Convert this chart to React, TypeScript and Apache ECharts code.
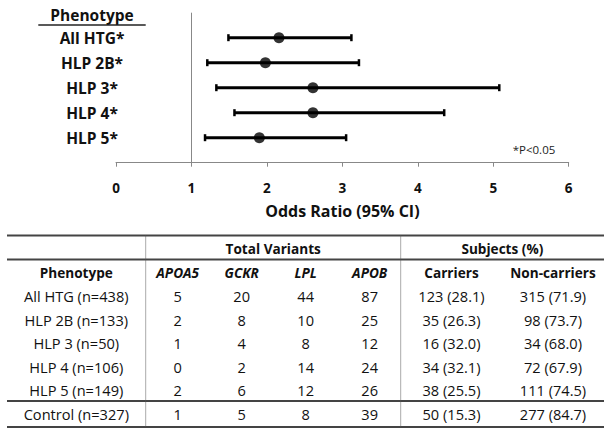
import React, { useEffect, useRef } from "react";
import * as echarts from "echarts";

// ---- Forest plot data ----
const phenotypes = ["All HTG*", "HLP 2B*", "HLP 3*", "HLP 4*", "HLP 5*"];
const oddsRatio = [2.16, 1.98, 2.61, 2.61, 1.9];
const ciLow = [1.49, 1.21, 1.33, 1.57, 1.18];
const ciHigh = [3.12, 3.22, 5.08, 4.35, 3.05];
const xTicks = [0, 1, 2, 3, 4, 5, 6];

// ---- Table data ----
const groups = ["All HTG", "HLP 2B", "HLP 3", "HLP 4", "HLP 5", "Control"];
const groupN = [438, 133, 50, 106, 149, 327];
const apoa5 = [5, 2, 1, 0, 2, 1];
const gckr = [20, 8, 4, 2, 6, 5];
const lpl = [44, 10, 8, 14, 12, 8];
const apob = [87, 25, 12, 24, 26, 39];
const carriers = [123, 35, 16, 34, 38, 50];
const carrierPct = [28.1, 26.3, 32.0, 32.1, 25.5, 15.3];
const nonCarriers = [315, 98, 34, 72, 111, 277];
const nonCarrierPct = [71.9, 73.7, 68.0, 67.9, 74.5, 84.7];
const geneHeaders = ["APOA5", "GCKR", "LPL", "APOB"];
const subjectHeaders = ["Carriers", "Non-carriers"];

const FONT = "'Open Sans', Lato, sans-serif";

export default function App() {
  const ref = useRef<HTMLDivElement>(null);

  useEffect(() => {
    if (!ref.current) return;
    const chart = echarts.init(ref.current, undefined, { renderer: "svg" });
    const n = phenotypes.length;
    const yOf = (i: number) => n - i;

    const scatterData = oddsRatio.map((v, i) => [v, yOf(i)]);
    const ciData = ciLow.map((lo, i) => [lo, ciHigh[i], yOf(i)]);

    // table layout
    const tLeft = 7;
    const tRight = 604;
    const colX = [76.3, 177.7, 241.7, 305.7, 369.7, 451.5, 553];
    const rowY0 = 296.3;
    const rowStep = 23.5;
    const graphics: any[] = [];
    const txt = (x: number, y: number, text: string, size: number, weight: string, italic = false) => ({
      type: "text",
      x,
      y,
      silent: true,
      style: {
        text,
        fontFamily: FONT,
        fontSize: size,
        fontWeight: weight,
        fontStyle: italic ? "italic" : "normal",
        fill: "#111",
        textAlign: "center",
        textVerticalAlign: "middle",
      },
    });
    const hline = (y: number, x1: number, x2: number, w: number, color: string) => ({
      type: "line",
      silent: true,
      shape: { x1, y1: y, x2, y2: y },
      style: { stroke: color, lineWidth: w },
    });

    // chart header
    graphics.push(txt(92, 14.5, "Phenotype", 15.5, "bold"));
    graphics.push(hline(25, 38.3, 145.7, 1.5, "#222"));
    graphics.push({
      type: "text",
      x: 534,
      y: 149,
      silent: true,
      style: {
        text: "*P<0.05",
        fontFamily: FONT,
        fontSize: 11.5,
        fill: "#222",
        textAlign: "center",
        textVerticalAlign: "middle",
      },
    });

    // table lines
    graphics.push(hline(235.5, tLeft, tRight, 2, "#444"));
    graphics.push(hline(259.5, tLeft, tRight, 2, "#444"));
    graphics.push(hline(401, tLeft, tRight, 2, "#444"));
    graphics.push(hline(427, tLeft, tRight, 2, "#444"));
    [145.7, 400.7].forEach((x) =>
      graphics.push({
        type: "line",
        silent: true,
        shape: { x1: x, y1: 235.5, x2: x, y2: 427 },
        style: { stroke: "#555", lineWidth: 1, lineDash: [1, 1] },
      })
    );

    // table headers
    const HB = 13.6;
    const BODY = 14.6;
    graphics.push(txt((145.7 + 400.7) / 2, 248.7, "Total Variants", HB, "bold"));
    graphics.push(txt((400.7 + tRight) / 2, 248.7, "Subjects (%)", HB, "bold"));
    graphics.push(txt(colX[0], 272.3, "Phenotype", HB, "bold"));
    geneHeaders.forEach((g, j) => graphics.push(txt(colX[1 + j], 272.3, g, HB, "bold", true)));
    subjectHeaders.forEach((s, j) => graphics.push(txt(colX[5 + j], 272.3, s, HB, "bold")));

    // table body
    groups.forEach((g, i) => {
      const y = rowY0 + rowStep * i;
      const cells = [
        `${g} (n=${groupN[i]})`,
        String(apoa5[i]),
        String(gckr[i]),
        String(lpl[i]),
        String(apob[i]),
        `${carriers[i]} (${carrierPct[i].toFixed(1)})`,
        `${nonCarriers[i]} (${nonCarrierPct[i].toFixed(1)})`,
      ];
      cells.forEach((c, j) => graphics.push(txt(colX[j], y, c, BODY, "normal")));
    });

    chart.setOption({
      animation: false,
      backgroundColor: "#fff",
      grid: { left: 116, top: 12.7, width: 452.7, height: 150, containLabel: false },
      xAxis: {
        type: "value",
        min: xTicks[0],
        max: xTicks[xTicks.length - 1],
        interval: 1,
        name: "Odds Ratio (95% CI)",
        nameLocation: "middle",
        nameGap: 40,
        nameTextStyle: { fontFamily: FONT, fontSize: 16, fontWeight: "bold", color: "#111" },
        axisLine: { show: true, onZero: false, lineStyle: { color: "#888", width: 1 } },
        axisTick: { show: true, inside: false, length: 4, lineStyle: { color: "#888" } },
        axisLabel: { fontFamily: FONT, fontSize: 13.5, fontWeight: "bold", color: "#111", margin: 18 },
        splitLine: { show: false },
      },
      yAxis: {
        type: "value",
        min: 0,
        max: 6,
        interval: 1,
        axisLine: { show: false },
        axisTick: { show: false },
        splitLine: { show: false },
        axisLabel: {
          margin: 24,
          align: "center",
          fontFamily: FONT,
          fontSize: 15.5,
          fontWeight: "bold",
          color: "#111",
          formatter: (v: number) => {
            const idx = n - v;
            return v >= 1 && v <= n ? phenotypes[idx] : "";
          },
        },
      },
      series: [
        {
          type: "custom",
          data: ciData,
          encode: { x: [0, 1], y: 2 },
          z: 2,
          renderItem: (params: any, api: any) => {
            const yv = api.value(2);
            const p1 = api.coord([api.value(0), yv]);
            const p2 = api.coord([api.value(1), yv]);
            const st = { stroke: "#000", lineWidth: 3 };
            return {
              type: "group",
              children: [
                { type: "line", shape: { x1: p1[0], y1: p1[1], x2: p2[0], y2: p2[1] }, style: st },
                { type: "line", shape: { x1: p1[0], y1: p1[1] - 3.5, x2: p1[0], y2: p1[1] + 3.5 }, style: { stroke: "#000", lineWidth: 2.5 } },
                { type: "line", shape: { x1: p2[0], y1: p2[1] - 3.5, x2: p2[0], y2: p2[1] + 3.5 }, style: { stroke: "#000", lineWidth: 2.5 } },
              ],
            };
          },
        },
        {
          type: "scatter",
          data: scatterData,
          symbol: "circle",
          symbolSize: 11,
          itemStyle: { color: "#000" },
          z: 3,
          markLine: {
            silent: true,
            symbol: "none",
            label: { show: false },
            lineStyle: { color: "#888", width: 1, type: "solid" },
            data: [{ xAxis: 1 }],
          },
        },
      ],
      graphic: graphics,
    });

    return () => chart.dispose();
  }, []);

  return (
    <div
      ref={ref}
      style={{ position: "fixed", left: 0, top: 0, width: 612, height: 433, background: "#fff" }}
    />
  );
}
